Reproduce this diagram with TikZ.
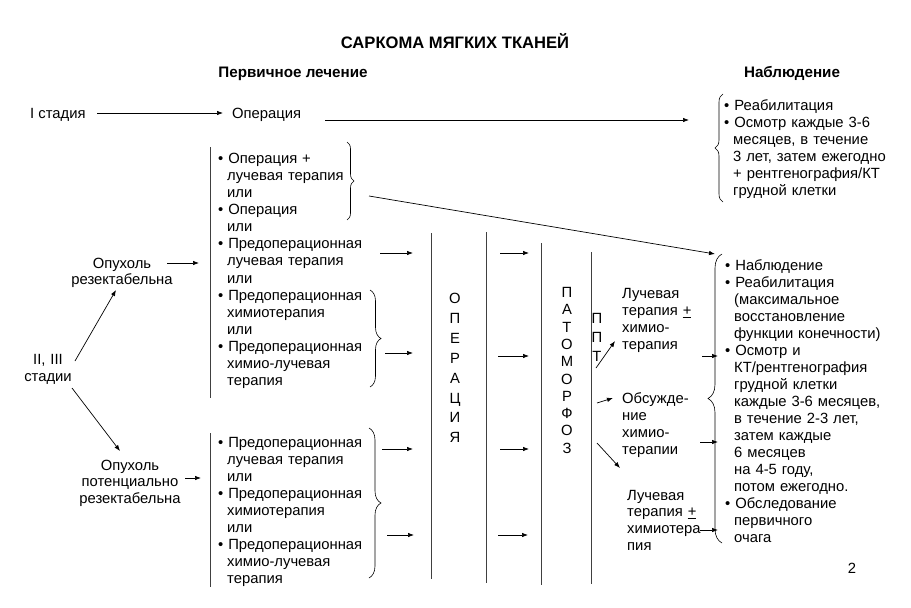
\documentclass[tikz,border=0pt]{standalone}
\usepackage{fontspec}
\setmainfont{Liberation Sans}
\usetikzlibrary{arrows.meta,decorations.pathreplacing}
\newcommand{\bl}{\textbullet\ }
\newcommand{\ind}{\hspace*{9pt}}
\begin{document}
\begin{tikzpicture}[x=1pt,y=-1pt,
  every node/.style={inner sep=0pt},
  blk/.style={font=\fontsize{14.8}{#1}\selectfont, anchor=base west, align=left, text width=200pt},
  cblk/.style={font=\fontsize{14.8}{#1}\selectfont, anchor=base, align=center, text width=130pt},
  letters/.style={font=\fontsize{14.8}{#1}\selectfont, anchor=base, align=center, text width=20pt},
  head/.style={font=\bfseries\fontsize{15.2}{18}\selectfont, anchor=base},
  one/.style={font=\fontsize{14.8}{17}\selectfont, anchor=base west},
  arr/.style={line width=0.7pt, -{Latex[length=6pt,width=4.5pt]}},
  vline/.style={line width=0.9pt, black!75},
  brc/.style={line width=0.6pt, decorate, decoration={brace, amplitude=#1}}
]
\useasboundingbox (0,0) rectangle (911,608);

% headings
\node[head, font=\bfseries\fontsize{16.6}{19}\selectfont] (title) at (455,48.8) {САРКОМА МЯГКИХ ТКАНЕЙ};
\node[head] (h1) at (293,77) {Первичное лечение};
\node[head] (h2) at (792,77) {Наблюдение};

% stage I
\node[one] (st1) at (30,118) {I стадия};
\node[one] (op1) at (232,118) {Операция};
\node[blk=17] (obs1) at (724,110) {\bl Реабилитация\\
\bl Осмотр каждые 3-6\\
\ind месяцев, в течение\\
\ind 3 лет, затем ежегодно\\
\ind + рентгенография/КТ\\
\ind грудной клетки};

% stages II, III
\node[cblk=17] (st23) at (48,364) {II, III\\стадии};
\node[cblk=16] (res) at (122,268) {Опухоль\\резектабельна};
\node[cblk=16.5] (pres) at (130,470) {Опухоль\\потенциально\\резектабельна};

\node[blk=17.15] (list1) at (218,163) {\bl Операция +\\
\ind лучевая терапия\\
\ind или\\
\bl Операция\\
\ind или\\
\bl Предоперационная\\
\ind лучевая терапия\\
\ind или\\
\bl Предоперационная\\
\ind химиотерапия\\
\ind или\\
\bl Предоперационная\\
\ind химио-лучевая\\
\ind терапия};

\node[blk=17.1] (list2) at (218,447) {\bl Предоперационная\\
\ind лучевая терапия\\
\ind или\\
\bl Предоперационная\\
\ind химиотерапия\\
\ind или\\
\bl Предоперационная\\
\ind химио-лучевая\\
\ind терапия};

\node[letters=19.9] (oper) at (455,303.5) {О\\П\\Е\\Р\\А\\Ц\\И\\Я};
\node[letters=17.3] (pato) at (567,297.5) {П\\А\\Т\\О\\М\\О\\Р\\Ф\\О\\З};
\node[letters=19] (ppt) at (597,323) {П\\П\\Т};

\node[blk=17.3] (lt1) at (622,298) {Лучевая\\терапия \underline{+}\\химио-\\терапия};
\node[blk=17.3] (disc) at (622,403) {Обсужде-\\ние\\химио-\\терапии};
\node[blk=16.8] (lt2) at (627,500) {Лучевая\\терапия \underline{+}\\химиотера\\пия};

\node[blk=17.06] (obs2) at (725,270) {\bl Наблюдение\\
\bl Реабилитация\\
\ind (максимальное\\
\ind восстановление\\
\ind функции конечности)\\
\bl Осмотр и\\
\ind КТ/рентгенография\\
\ind грудной клетки\\
\ind каждые 3-6 месяцев,\\
\ind в течение 2-3 лет,\\
\ind затем каждые\\
\ind 6 месяцев\\
\ind на 4-5 году,\\
\ind потом ежегодно.\\
\bl Обследование\\
\ind первичного\\
\ind очага};

\node[one, anchor=base] (pg) at (852,573.5) {2};

% vertical lines
\draw[vline] (210,147) -- (210,398);
\draw[vline] (210,433) -- (210,587);
\draw[vline] (431,233) -- (431,579);
\draw[vline] (486,232) -- (486,583);
\draw[vline] (541,243) -- (541,585);
\draw[vline] (591,252) -- (591,584);

% braces
\draw[brc=8pt] (723,202) -- (723,94);
\draw[brc=7pt] (347,142) -- (347,220);
\draw[brc=11pt] (370,290) -- (370,387);
\draw[brc=12pt] (369,428) -- (369,578);
\draw[brc=14pt] (722,543) -- (722,254);

% named connector ends
\coordinate (a1s) at (97,113);   \coordinate (a1e) at (223,113);
\coordinate (a2s) at (325,120);  \coordinate (a2e) at (689,120);
\coordinate (a3s) at (369,196);  \coordinate (a3e) at (715,254);
\coordinate (d1s) at (75,361);   \coordinate (d1e) at (116,290);
\coordinate (d2s) at (72,388);   \coordinate (d2e) at (120,451);
\coordinate (r1s) at (167,263);  \coordinate (r1e) at (199,263);
\coordinate (r2s) at (185,478);  \coordinate (r2e) at (201,478);
\coordinate (p1s) at (596,368);  \coordinate (p1e) at (615,341);
\coordinate (p2s) at (597,403);  \coordinate (p2e) at (613,398);
\coordinate (p3s) at (597,443);  \coordinate (p3e) at (620,468);
\coordinate (o1s) at (702,356);  \coordinate (o1e) at (718,356);
\coordinate (o2s) at (700,442);  \coordinate (o2e) at (718,442);
\coordinate (o3s) at (700,530);  \coordinate (o3e) at (718,530);

\draw[arr] (a1s) -- (a1e);
\draw[arr] (a2s) -- (a2e);
\draw[arr] (a3s) -- (a3e);
\draw[arr] (d1s) -- (d1e);
\draw[arr] (d2s) -- (d2e);
\draw[arr] (r1s) -- (r1e);
\draw[arr] (r2s) -- (r2e);
\draw[arr] (p1s) -- (p1e);
\draw[arr] (p2s) -- (p2e);
\draw[arr] (p3s) -- (p3e);
\draw[arr] (o1s) -- (o1e);
\draw[arr] (o2s) -- (o2e);
\draw[arr] (o3s) -- (o3e);

% arrows into and out of the operation column
\foreach \y/\xa/\xb in {253/380/413, 353/385/413, 449/382/413, 535/387/414}
  \draw[arr] (\xa,\y) -- (\xb,\y);
\foreach \y/\xa/\xb in {253/500/529, 356/498/529, 449/500/529, 535/498/528}
  \draw[arr] (\xa,\y) -- (\xb,\y);
\end{tikzpicture}
\end{document}
